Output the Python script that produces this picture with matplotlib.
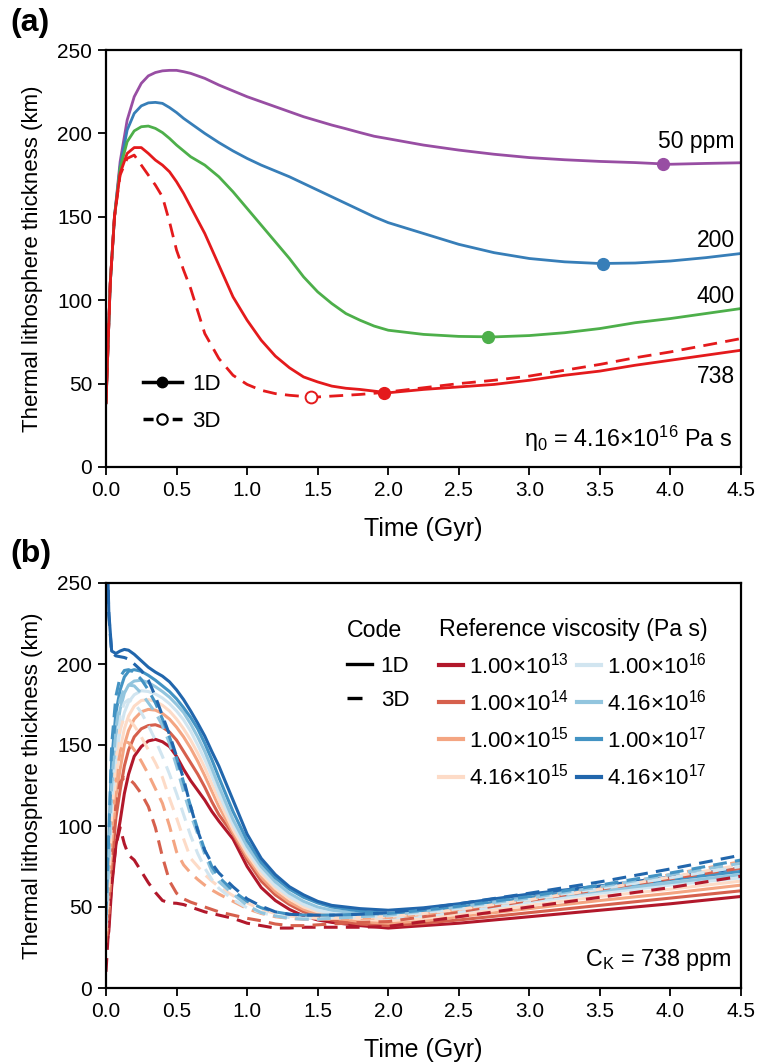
import matplotlib
matplotlib.use('Agg')
import matplotlib.pyplot as plt
from matplotlib.lines import Line2D
from matplotlib.ticker import FormatStrFormatter

plt.rcParams['font.family'] = ['Liberation Sans', 'DejaVu Sans']
plt.rcParams['mathtext.fontset'] = 'custom'
plt.rcParams['mathtext.rm'] = 'Liberation Sans'
plt.rcParams['mathtext.it'] = 'Liberation Sans:italic'
plt.rcParams['mathtext.bf'] = 'Liberation Sans:bold'

# ---------------- Panel (a) data ----------------
TIME_A = [0, 0.03, 0.06, 0.1, 0.15, 0.2, 0.25, 0.3, 0.35, 0.4, 0.45, 0.5, 0.55, 0.6, 0.7, 0.8, 0.9,
          1.0, 1.1, 1.2, 1.3, 1.4, 1.5, 1.6, 1.7, 1.8, 1.9, 2.0, 2.25, 2.5, 2.75, 3.0,
          3.25, 3.5, 3.75, 4.0, 4.25, 4.5]
CK_50_1D = [38, 110, 150, 183, 208, 222, 230, 234.5, 236.5, 237.5, 237.8, 237.8, 237, 236, 233, 229, 225.5,
            222, 219, 216, 213, 210, 207.5, 205, 202.8, 200.5, 198.3, 196.8, 193, 190, 187.5, 185.5,
            184.2, 183.2, 182.5, 181.5, 182, 182.4]
CK_200_1D = [38, 110, 150, 180, 202, 212, 216.5, 218.3, 218.6, 218, 215.5, 212.5, 209, 206, 200, 194.5, 189.5,
             185, 181, 177.5, 174, 170, 166, 162, 158, 154, 150, 146.5, 140, 133.5, 128.5, 125,
             123, 122, 122.3, 123.5, 125.5, 128]
CK_400_1D = [38, 110, 150, 179, 195, 201.5, 204, 204.4, 203, 200.5, 197, 193, 189.5, 186, 181, 174, 165,
             155, 145, 135, 125, 114, 105, 98, 92, 88, 84.5, 82, 79.5, 78.3, 78, 78.8,
             80.5, 83, 86.5, 89, 92, 95]
CK_738_1D = [38, 110, 150, 176, 188, 191.5, 191.5, 188, 184, 181, 177, 171, 164, 156, 140, 121, 102,
             88, 76, 66.5, 59.5, 54, 51, 48.5, 47.2, 46.5, 45.5, 44.5, 46.5, 48, 49.5, 52,
             55, 57.5, 61, 64, 67, 70]
CK_738_3D = [38, 110, 150, 175, 185, 187, 181, 175, 169, 162, 147, 130, 118, 107, 80, 65, 55,
             49.5, 46, 44, 43, 42.3, 42, 42.5, 43, 43.5, 44.2, 45, 47.5, 50, 52, 54.5,
             58, 61.5, 65.5, 69, 73, 77]
CASE_LABELS_A = ['50 ppm', '200', '400', '738']
CASE_COLORS_A = ['#984ea3', '#377eb8', '#4daf4a', '#e41a1c']
MIN_TIME_1D = [3.95, 3.52, 2.71, 1.97]
MIN_VALUE_1D = [181.5, 122.0, 78.0, 44.5]
MIN_TIME_3D = [1.45]
MIN_VALUE_3D = [42.0]
LABEL_Y_A = [195, 136, 102.5, 54]

# ---------------- Panel (b) data ----------------
TIME_B = [0, 0.02, 0.04, 0.07, 0.1, 0.13, 0.16, 0.2, 0.25, 0.3, 0.35, 0.4, 0.45, 0.5, 0.55,
          0.6, 0.65, 0.7, 0.75, 0.8, 0.9, 1.0, 1.1, 1.2, 1.3, 1.4, 1.5, 1.6, 1.8, 2.0,
          2.25, 2.5, 3.0, 3.5, 4.0, 4.5]
VISC_LABELS = ['1.00×10$^{13}$', '1.00×10$^{14}$', '1.00×10$^{15}$', '4.16×10$^{15}$',
               '1.00×10$^{16}$', '4.16×10$^{16}$', '1.00×10$^{17}$', '4.16×10$^{17}$']
VISC_COLORS = ['#b2182b', '#d6604d', '#f4a582', '#fddbc7',
               '#d1e5f0', '#92c5de', '#4393c3', '#2166ac']

S_1E13 = [25, 35, 62, 88, 103, 120, 132, 143, 149, 152.5, 153.5, 152, 149, 143, 135, 128, 122, 116,
          109, 103, 92, 75, 62, 54, 48.5, 44.5, 42, 40.5, 38.5, 37, 38.5, 40, 44, 48, 52, 56.5]
S_1E14 = [28, 42, 75, 105, 122, 137, 147, 155, 160, 162, 162.5, 161, 158, 153, 146, 139, 132, 124,
          115, 107, 95, 79, 66, 57.5, 51.5, 47, 44, 42, 39.5, 38.5, 40, 42, 46.5, 51, 55.5, 60]
S_1E15 = [32, 50, 88, 118, 135, 150, 159, 166, 170.5, 172, 171.5, 169.5, 166, 161, 155, 148, 140, 131,
          121.5, 112, 96, 81, 68.5, 59.5, 53, 48.5, 45.5, 43.5, 41, 40, 41.5, 44, 49, 54, 58.5, 63.5]
S_4E15 = [36, 58, 100, 130, 147, 160, 168, 174, 177.5, 178, 177, 174.5, 171, 166, 160, 153, 145, 136,
          126, 116, 98, 83, 70.5, 61.5, 55, 50, 47, 45, 42.5, 41.5, 43, 45.5, 51, 56.5, 61, 66]
S_1E16 = [40, 68, 112, 142, 159, 170, 176.5, 181, 183.5, 183, 181.5, 179, 175.5, 171, 165.5, 158.5, 150, 141,
          131, 120, 101, 85, 72.5, 63, 56.5, 51.5, 48, 46, 44, 43, 44.5, 47, 53, 58.5, 63.5, 68]
S_4E16 = [42, 78, 125, 156, 172, 182, 187, 189.5, 190, 188.5, 186, 183, 179.5, 175, 170, 163, 155, 146,
          135.5, 124.5, 104, 87.5, 75, 65.5, 58.5, 53.5, 50, 48, 46, 44.5, 46, 48.5, 54.5, 60, 65, 70]
S_1E17 = [45, 90, 140, 170, 184, 192, 195.5, 196.5, 195.5, 193, 190, 186.5, 183, 178.5, 173, 167, 160, 151,
          141, 130, 109, 91, 77.5, 68, 61, 56, 52.5, 50, 47.5, 46, 47.5, 50, 56, 61.5, 67, 72]
S_4E17 = [300, 232, 208, 206.5, 208, 209, 208.5, 206, 202, 198, 195, 192.5, 189, 184, 178, 171, 163.5, 155.5,
          146, 137, 116, 95, 80, 70, 62.5, 57.5, 53.5, 51, 49, 48, 49.5, 52, 58, 63, 68.5, 74]

D_1E13 = [10, 40, 65, 88, 99, 89, 82, 79, 72, 65, 59, 54, 52.5, 52.3, 51.5, 50, 48.5, 47,
          46, 45, 43, 40, 38.5, 37, 37, 37.5, 37.5, 37.5, 37.5, 38, 41, 44, 50, 56, 62, 69]
D_1E14 = [28, 50, 85, 113, 127, 130, 129.5, 126, 120, 112, 99, 81, 66, 58.5, 55, 53, 51.5, 50,
          48.5, 47, 45, 43, 41.5, 39.5, 38.5, 38.5, 39, 39.5, 40.5, 41, 44, 47, 54, 61, 67.5, 74]
D_1E15 = [32, 58, 95, 128, 146, 152, 151.5, 147, 140, 132, 123, 114, 100, 84, 76, 71, 67, 63.5,
          60.5, 58, 53.5, 49, 46, 44, 43, 42.5, 42.5, 42.5, 43, 43.5, 45.5, 48.5, 55, 62, 70, 78]
D_4E15 = [35, 65, 105, 140, 160, 167, 166, 162, 155, 147, 139, 130, 117, 105, 92, 80, 75, 70,
          66, 62.5, 57, 52.5, 48.5, 46, 44.5, 43.5, 43, 43, 43.5, 44, 46, 48.5, 54.5, 61, 68.5, 76]
D_1E16 = [38, 72, 115, 150, 168, 176, 178, 176, 170, 162, 153, 143, 132, 120, 107, 94, 83, 74,
          67, 61.5, 54.5, 49.5, 46.5, 44.5, 43.5, 43, 43, 43.5, 44, 44.5, 46.5, 49, 55, 61.5, 68, 75]
D_4E16 = [40, 80, 125, 160, 178, 185, 187, 186.5, 182, 176, 170, 162, 151, 137, 121, 107, 95, 82.5,
          72, 65.6, 58, 51, 46.5, 44.5, 43, 42.5, 42.5, 43, 44, 45, 47.5, 50, 55.5, 62.5, 70, 77]
D_1E17 = [45, 95, 150, 180, 192, 196, 196.5, 195, 190.5, 184, 176, 166, 155, 142, 127, 112, 98, 85,
          75, 68.5, 60, 53.5, 49.5, 47, 45.5, 45, 45, 45, 45.5, 46, 48, 50.5, 56.5, 63.5, 71, 79]
D_4E17 = [300, 230, 207, 205, 204.5, 204, 203, 200, 196, 190, 180, 168, 156.5, 143, 129, 112, 97, 85,
          77, 71, 62.5, 55, 50.5, 47, 45.5, 45, 45, 45, 45.5, 46.5, 49, 52, 58.5, 65.5, 73.5, 82]

SOLID_B = [S_1E13, S_1E14, S_1E15, S_4E15, S_1E16, S_4E16, S_1E17, S_4E17]
DASHED_B = [D_1E13, D_1E14, D_1E15, D_4E15, D_1E16, D_4E16, D_1E17, D_4E17]

X_TICKS = [0.0, 0.5, 1.0, 1.5, 2.0, 2.5, 3.0, 3.5, 4.0, 4.5]
Y_TICKS = [0, 50, 100, 150, 200, 250]

# ---------------- Figure ----------------
W, H = 761, 1063
fig = plt.figure(figsize=(W / 100, H / 100), dpi=100)
axA = fig.add_axes([106 / W, 1 - 467 / H, 635 / W, 417 / H])
axB = fig.add_axes([106 / W, 1 - 988 / H, 635 / W, 405 / H])

DASH_A = (0, (5, 3))
DASH_B = (0, (4.5, 2.7))


def style_axes(ax):
    ax.set_xlim(0, 4.5)
    ax.set_ylim(0, 250)
    ax.set_xticks(X_TICKS)
    ax.set_yticks(Y_TICKS)
    ax.xaxis.set_major_formatter(FormatStrFormatter('%.1f'))
    for s in ax.spines.values():
        s.set_linewidth(1.6)
    ax.tick_params(direction='out', length=5.5, width=1.3, labelsize=15, pad=4.5,
                   top=False, right=False)
    ax.set_xlabel('Time (Gyr)', fontsize=18, labelpad=12)
    ax.set_ylabel('Thermal lithosphere thickness (km)', fontsize=16, labelpad=10)


# Panel (a)
series_a = [CK_50_1D, CK_200_1D, CK_400_1D, CK_738_1D]
for vals, col in zip(series_a, CASE_COLORS_A):
    axA.plot(TIME_A, vals, color=col, lw=2.0, solid_capstyle='round')
axA.plot(TIME_A, CK_738_3D, color=CASE_COLORS_A[3], lw=2.0, ls=DASH_A)
for t, v, col in zip(MIN_TIME_1D, MIN_VALUE_1D, CASE_COLORS_A):
    axA.plot([t], [v], 'o', color=col, ms=8.5, zorder=5)
axA.plot(MIN_TIME_3D, MIN_VALUE_3D, 'o', mfc='white', mec=CASE_COLORS_A[3], mew=1.4,
         ms=8.5, zorder=5)
for lab, y in zip(CASE_LABELS_A, LABEL_Y_A):
    axA.text(4.455, y, lab, ha='right', va='center', fontsize=16.5)
axA.text(4.435, 17, 'η$_0$ = 4.16×10$^{16}$ Pa s', ha='right', va='center', fontsize=16.8)

hA1 = Line2D([], [], color='k', lw=2.5, marker='o', ms=7.5)
hA2 = Line2D([], [], color='k', lw=2.5, ls=(0, (2.9, 5.5)), marker='o', ms=7.5,
             mfc='white', mew=1.5)
axA.legend([hA1, hA2], ['1D', '3D'], loc='lower left', bbox_to_anchor=(0.058, 0.085),
           frameon=False, fontsize=16, handlelength=1.76, handletextpad=0.45,
           labelspacing=0.69, borderpad=0, borderaxespad=0)
style_axes(axA)

# Panel (b)
for vals, col in zip(SOLID_B, VISC_COLORS):
    axB.plot(TIME_B, vals, color=col, lw=2.2)
for vals, col in zip(DASHED_B, VISC_COLORS):
    axB.plot(TIME_B, vals, color=col, lw=2.2, ls=DASH_B)
axB.text(4.435, 17, 'C$_\\mathrm{K}$ = 738 ppm', ha='right', va='center', fontsize=16.8)

code_handles = [Line2D([], [], color='k', lw=2.4),
                Line2D([], [], color='k', lw=2.4, ls=(0, (4.5, 6)))]
leg1 = axB.legend(code_handles, ['1D', '3D'], title='Code', loc='upper left',
                  bbox_to_anchor=(0.380, 0.910), frameon=False, fontsize=16,
                  title_fontsize=16.7, alignment='left', handlelength=1.1,
                  handletextpad=0.4, labelspacing=0.6, borderpad=0, borderaxespad=0)
axB.add_artist(leg1)
visc_handles = [Line2D([], [], color=c, lw=3) for c in VISC_COLORS]
axB.legend(visc_handles, VISC_LABELS, title='Reference viscosity (Pa s)', ncol=2,
           loc='upper left', bbox_to_anchor=(0.524, 0.913), frameon=False, fontsize=16,
           title_fontsize=16.7, alignment='left', handlelength=1.1, handletextpad=0.25,
           labelspacing=0.5, columnspacing=0.35, borderpad=0, borderaxespad=0)
style_axes(axB)

fig.text(10 / W, 1 - 23 / H, '(a)', fontsize=23, fontweight='bold', va='center', ha='left')
fig.text(10 / W, 1 - 554 / H, '(b)', fontsize=23, fontweight='bold', va='center', ha='left')

fig.savefig('out.png', dpi=100)
